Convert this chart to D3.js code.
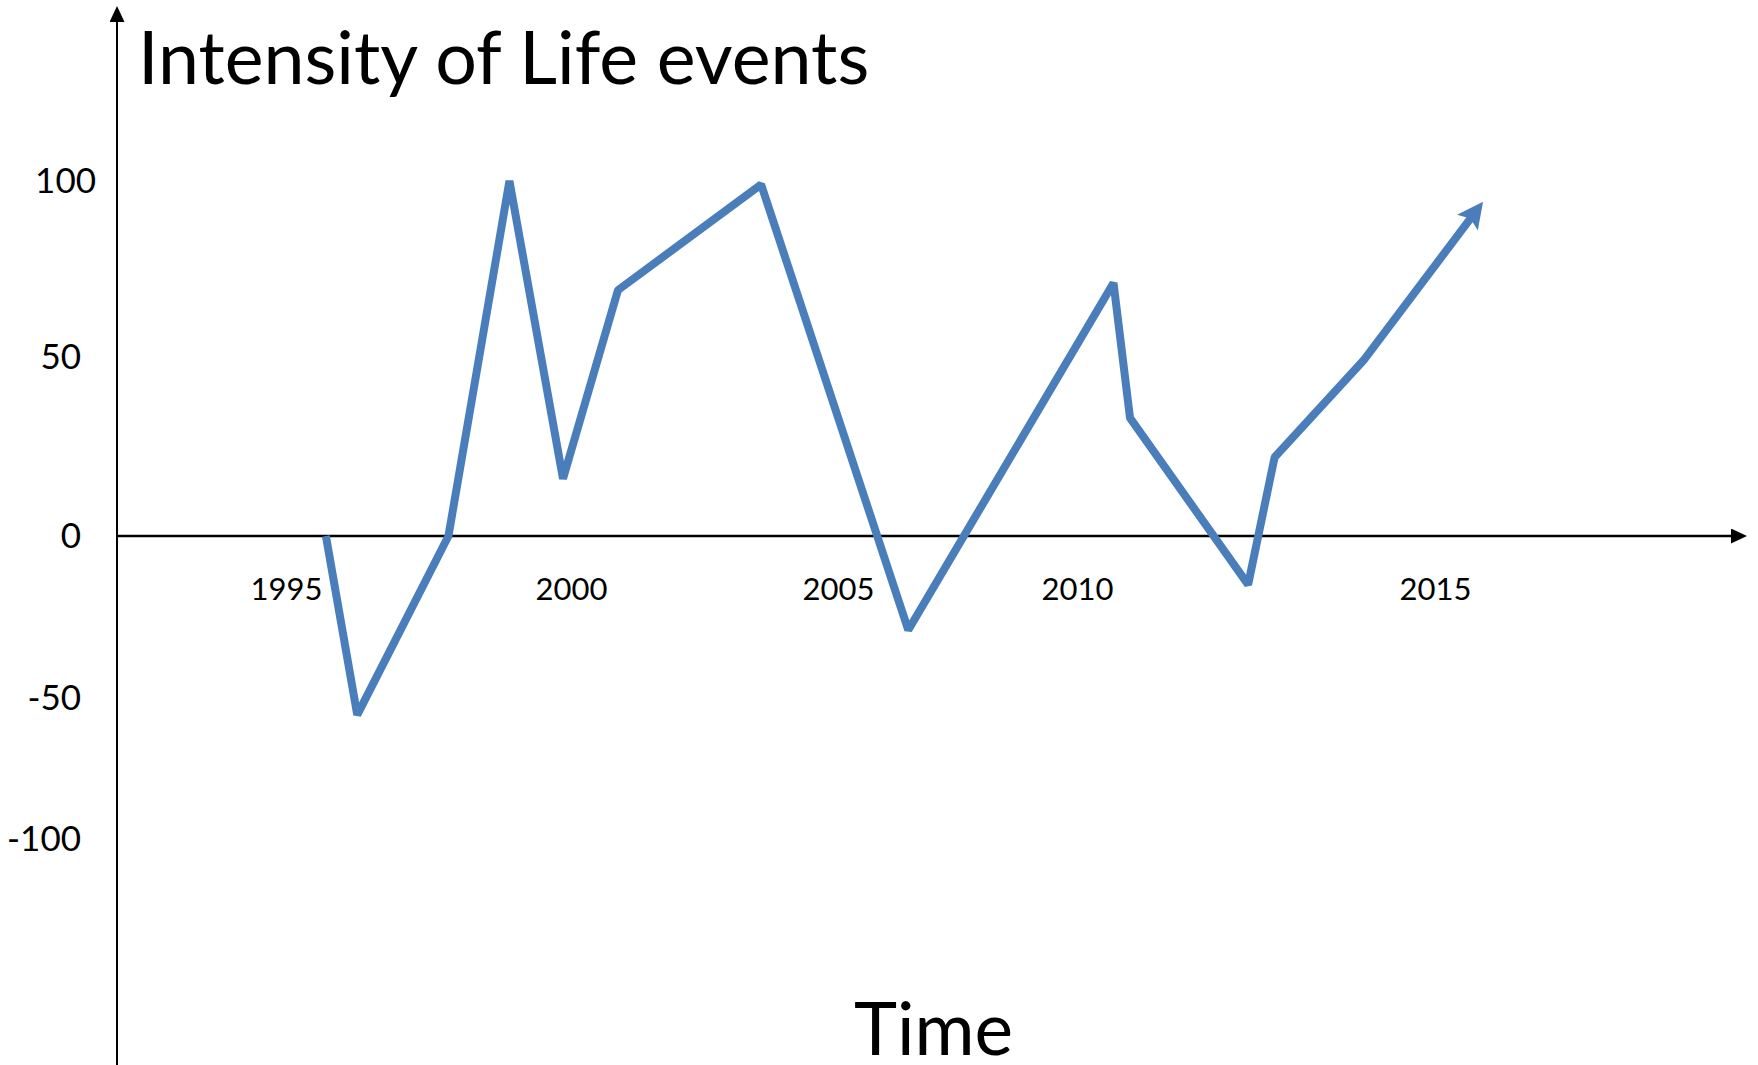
<!DOCTYPE html>
<html>
<head>
<meta charset="utf-8">
<script src="https://cdn.jsdelivr.net/npm/d3@7"></script>
<style>
  html, body { margin: 0; padding: 0; background: #fff; overflow: hidden; }
  svg { display: block; }
  text { font-family: Lato, "Open Sans", sans-serif; fill: #000; }
</style>
</head>
<body>
<script>
// Values
const years = [1995.7, 1996.25, 1997.85, 1998.92, 1999.86, 2000.88, 2003.56, 2006.47, 2010.51, 2010.74, 2012.39, 2012.76, 2014.0, 2015.52]
const intensity = [0, -56, 0, 100, 16, 69, 99, -29, 71, 33, -15, 22, 49, 90]
const yearTicks = [1995, 2000, 2005, 2010, 2015]
const intensityTicks = [100, 50, 0, -50, -100]

const width = 1758, height = 1065
const axisX = 117
const lineColor = '#4a7ebb'

const points = years.map((d, i) => ({year: d, value: intensity[i]}))

// Tick labels in the picture are hand placed, so the scales are piecewise
const x = d3.scaleLinear().domain(yearTicks).range([286, 571, 838, 1077, 1435])
const y = d3.scaleLinear().domain(intensityTicks).range([181, 357, 536, 698, 839])

const svg = d3.select('body').append('svg')
  .attr('width', width).attr('height', height)

const defs = svg.append('defs')
defs.append('marker')
  .attr('id', 'axisArrow')
  .attr('markerUnits', 'userSpaceOnUse')
  .attr('markerWidth', 16).attr('markerHeight', 15)
  .attr('refX', 2).attr('refY', 7.5)
  .attr('orient', 'auto')
  .append('path').attr('d', 'M0,0 L16,7.5 L0,15 Z').attr('fill', '#000')

defs.append('marker')
  .attr('id', 'lineArrow')
  .attr('markerUnits', 'userSpaceOnUse')
  .attr('markerWidth', 26).attr('markerHeight', 26)
  .attr('refX', 8).attr('refY', 13)
  .attr('orient', 'auto')
  .append('path').attr('d', 'M0,0 L26,13 L0,26 L5,13 Z').attr('fill', lineColor)

// Axis lines with arrow heads
svg.append('line')
  .attr('x1', axisX).attr('y1', height)
  .attr('x2', axisX).attr('y2', 20)
  .attr('stroke', '#000').attr('stroke-width', 2)
  .attr('marker-end', 'url(#axisArrow)')

svg.append('line')
  .attr('x1', axisX).attr('y1', y(0))
  .attr('x2', 1733).attr('y2', y(0))
  .attr('stroke', '#000').attr('stroke-width', 2.5)
  .attr('marker-end', 'url(#axisArrow)')

// Tick labels
const yAxis = svg.append('g')
  .attr('transform', `translate(${axisX},0)`)
  .call(d3.axisLeft(y).tickValues(intensityTicks).tickFormat(d => String(d)).tickSize(0))
yAxis.select('.domain').remove()
yAxis.selectAll('text')
  // the "100" label sits a little further right in the original
  .attr('x', d => d === 100 ? -21 : -36).attr('dy', '0.32em')
  .style('font-family', 'Lato, sans-serif').style('font-size', '35px')
  .attr('fill', '#000')

const xAxis = svg.append('g')
  .attr('transform', `translate(0,${y(0)})`)
  .call(d3.axisBottom(x).tickValues(yearTicks).tickFormat(d3.format('d')).tickSize(0))
xAxis.select('.domain').remove()
xAxis.selectAll('text')
  .attr('y', 53).attr('dy', '0.35em')
  .style('font-family', 'Lato, sans-serif').style('font-size', '31px')
  .attr('fill', '#000')

// The life line
const line = d3.line()
  .x(d => x(d.year))
  .y(d => y(d.value))

svg.append('path')
  .datum(points)
  .attr('d', line)
  .attr('fill', 'none')
  .attr('stroke', lineColor)
  .attr('stroke-width', 8)
  .attr('stroke-linejoin', 'bevel')
  .attr('marker-end', 'url(#lineArrow)')

// Titles
svg.append('text')
  .attr('x', 138).attr('y', 84)
  .style('font-size', '73.5px')
  .text('Intensity of Life events')

svg.append('text')
  .attr('x', 854).attr('y', 1055)
  .style('font-size', '73px')
  .text('Time')
</script>
</body>
</html>
